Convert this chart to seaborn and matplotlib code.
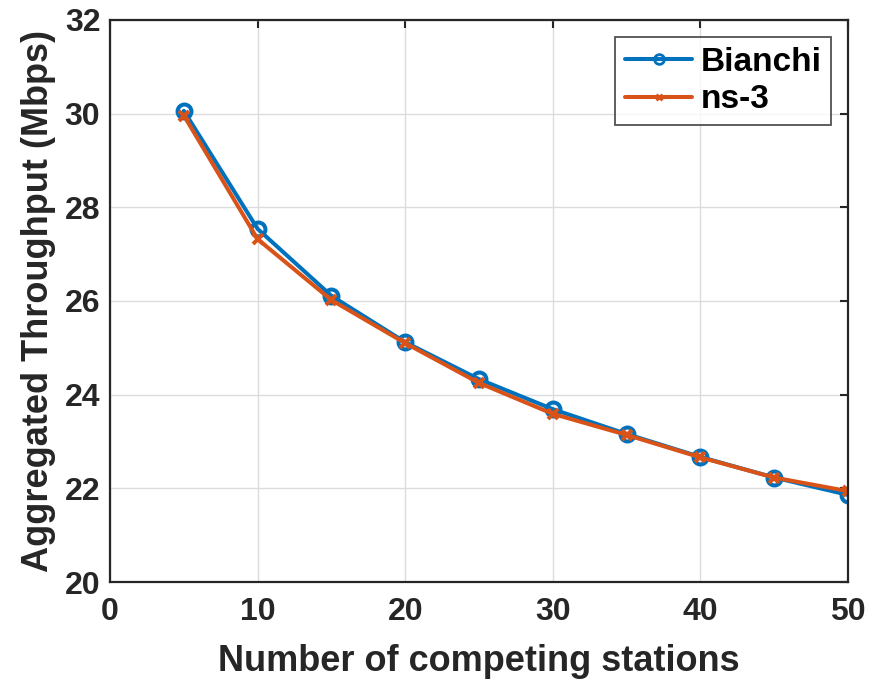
import numpy as np
import pandas as pd
import matplotlib
matplotlib.use("Agg")
import matplotlib.pyplot as plt
import seaborn as sns

stations = [5, 10, 15, 20, 25, 30, 35, 40, 45, 50]
bianchi = [30.06, 27.54, 26.11, 25.12, 24.33, 23.69, 23.16, 22.67, 22.23, 21.86]
ns3 = [29.96, 27.32, 26.02, 25.10, 24.25, 23.59, 23.14, 22.66, 22.23, 21.94]
series_names = ["Bianchi", "ns-3"]
xticks = [0, 10, 20, 30, 40, 50]
yticks = [20, 22, 24, 26, 28, 30, 32]

df = pd.DataFrame({
    "x": stations * 2,
    "y": bianchi + ns3,
    "series": [series_names[0]] * len(stations) + [series_names[1]] * len(stations),
})

sns.set_style("white")
plt.rcParams["font.family"] = ["Liberation Sans", "DejaVu Sans"]
plt.rcParams["font.weight"] = "bold"

fig = plt.figure(figsize=(8.81, 6.84), dpi=100)
ax = fig.add_axes([0.1249, 0.1491, 0.8377, 0.8217])

colors = {"Bianchi": "#0072BD", "ns-3": "#D95319"}
sns.lineplot(data=df[df.series == "Bianchi"], x="x", y="y", color=colors["Bianchi"],
             lw=2.9, marker="o", markersize=10, markerfacecolor="none",
             markeredgewidth=2.9, markeredgecolor=colors["Bianchi"], label="Bianchi", ax=ax)
sns.lineplot(data=df[df.series == "ns-3"], x="x", y="y", color=colors["ns-3"],
             lw=2.9, marker="x", markersize=7, markeredgewidth=2.9,
             markeredgecolor=colors["ns-3"], label="ns-3", ax=ax)

ax.set_xlim(0, 50)
ax.set_ylim(20, 32)
ax.set_xticks(xticks)
ax.set_yticks(yticks)
ax.grid(True, color="#dcdcdc", lw=1.0)
ax.set_axisbelow(True)
for s in ax.spines.values():
    s.set_visible(True)
    s.set_color("#262626")
    s.set_linewidth(1.6)
ax.tick_params(direction="in", length=6, width=1.5, labelsize=23, colors="#262626",
               top=True, right=True, labelcolor="#262626")
ax.tick_params(axis="x", pad=11)
ax.tick_params(axis="y", pad=7)
for lab in ax.get_xticklabels() + ax.get_yticklabels():
    lab.set_fontweight("bold")
ax.set_xlabel("Number of competing stations", fontsize=26, fontweight="bold", color="#262626", labelpad=12)
ax.set_ylabel("Aggregated Throughput (Mbps)", fontsize=26, fontweight="bold", color="#262626", labelpad=6)

leg = ax.legend(loc="upper right", frameon=True, fancybox=False,
                edgecolor="#262626", borderaxespad=0.5, handlelength=2.0, handletextpad=0.25,
                borderpad=0.3, labelspacing=0.2, markerscale=0.7,
                prop={"weight": "bold", "size": 24})
leg.get_frame().set_linewidth(1.3)
for t in leg.get_texts():
    t.set_color("black")
for h in leg.legend_handles:
    h.set_markeredgewidth(2.0)

fig.savefig("out.png", dpi=100)
